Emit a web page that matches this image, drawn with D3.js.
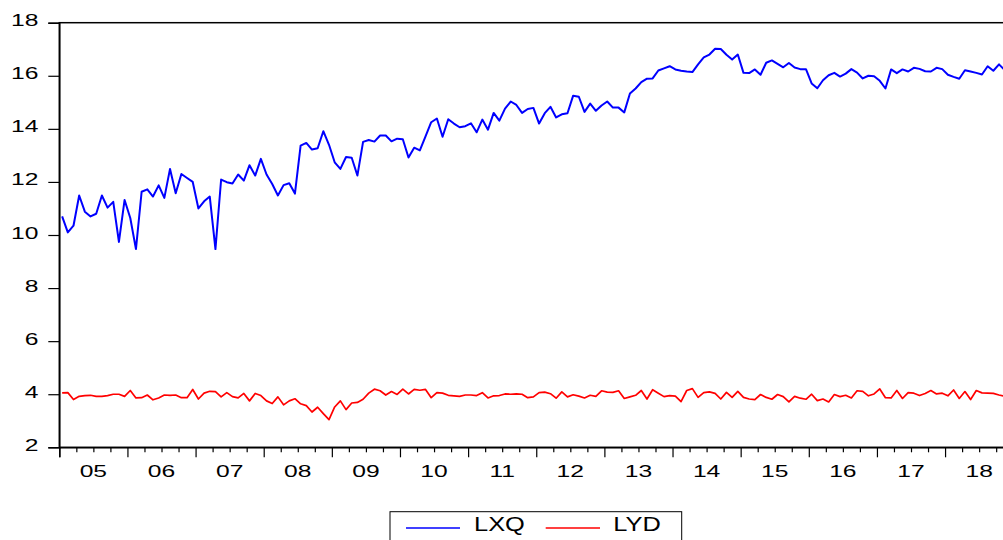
<!DOCTYPE html>
<html>
<head>
<meta charset="utf-8">
<script src="https://cdn.jsdelivr.net/npm/d3@7"></script>
<style>
  html, body { margin: 0; padding: 0; background: #fff; }
  svg { display: block; }
  text { font-family: "Liberation Sans", Arial, sans-serif; fill: #000; }
</style>
</head>
<body>
<svg id="chart" width="1003" height="540"></svg>
<script>
// Monthly series, January 2005 - December 2018
const startYear = 2005;
const yearLabels = ["05","06","07","08","09","10","11","12","13","14","15","16","17","18"];
const yTicks = [2, 4, 6, 8, 10, 12, 14, 16, 18];
const seriesNames = ["LXQ", "LYD"];
const seriesColors = ["#0000ff", "#ff0000"];

const lxq = [
  10.70, 10.10, 10.35, 11.49, 10.88, 10.70, 10.80, 11.49, 11.03, 11.25, 9.74, 11.32,
  10.64, 9.47, 11.63, 11.72, 11.45, 11.87, 11.40, 12.49, 11.57, 12.30, 12.15, 12.00,
  11.00, 11.27, 11.45, 9.47, 12.09, 11.99, 11.94, 12.28, 12.05, 12.63, 12.24, 12.87,
  12.28, 11.92, 11.49, 11.88, 11.95, 11.56, 13.37, 13.47, 13.22, 13.27, 13.91, 13.40,
  12.74, 12.49, 12.94, 12.91, 12.24, 13.51, 13.58, 13.52, 13.75, 13.75, 13.53, 13.63,
  13.61, 12.92, 13.29, 13.19, 13.72, 14.25, 14.39, 13.70, 14.36, 14.20, 14.06, 14.10,
  14.21, 13.87, 14.35, 13.97, 14.60, 14.31, 14.76, 15.03, 14.90, 14.60, 14.75, 14.79,
  14.20, 14.59, 14.83, 14.43, 14.55, 14.59, 15.25, 15.21, 14.64, 14.95, 14.68, 14.88,
  15.03, 14.80, 14.80, 14.62, 15.33, 15.52, 15.76, 15.89, 15.90, 16.20, 16.28, 16.36,
  16.24, 16.19, 16.16, 16.14, 16.43, 16.69, 16.80, 17.02, 17.01, 16.79, 16.61, 16.80,
  16.11, 16.10, 16.24, 16.04, 16.49, 16.58, 16.45, 16.32, 16.48, 16.31, 16.25, 16.25,
  15.71, 15.53, 15.83, 16.02, 16.11, 15.97, 16.08, 16.25, 16.12, 15.90, 16.00, 15.98,
  15.81, 15.52, 16.24, 16.10, 16.24, 16.16, 16.30, 16.26, 16.17, 16.16, 16.30, 16.25,
  16.04, 15.96, 15.89, 16.21, 16.16, 16.11, 16.05, 16.36, 16.19, 16.43, 16.22, 16.12
];

const lyd = [
  4.05, 4.06, 3.80, 3.92, 3.95, 3.96, 3.92, 3.92, 3.95, 4.00, 4.00, 3.92,
  4.14, 3.86, 3.87, 3.97, 3.79, 3.86, 3.97, 3.96, 3.97, 3.87, 3.87, 4.18,
  3.82, 4.04, 4.11, 4.10, 3.90, 4.06, 3.91, 3.86, 4.03, 3.75, 4.03, 3.95,
  3.75, 3.65, 3.90, 3.60, 3.75, 3.83, 3.64, 3.57, 3.33, 3.51, 3.27, 3.04,
  3.52, 3.75, 3.42, 3.67, 3.69, 3.81, 4.04, 4.19, 4.13, 3.97, 4.10, 3.99,
  4.19, 4.01, 4.18, 4.15, 4.18, 3.87, 4.06, 4.04, 3.96, 3.94, 3.92, 3.97,
  3.97, 3.95, 4.06, 3.86, 3.94, 3.95, 4.01, 4.00, 4.01, 4.00, 3.87, 3.90,
  4.06, 4.08, 4.02, 3.85, 4.09, 3.90, 3.98, 3.93, 3.86, 3.96, 3.92, 4.13,
  4.08, 4.07, 4.13, 3.84, 3.90, 3.96, 4.14, 3.82, 4.17, 4.04, 3.91, 3.95,
  3.93, 3.72, 4.14, 4.21, 3.88, 4.06, 4.09, 4.03, 3.82, 4.07, 3.88, 4.11,
  3.88, 3.82, 3.80, 3.99, 3.88, 3.81, 3.99, 3.91, 3.71, 3.92, 3.85, 3.81,
  4.00, 3.76, 3.82, 3.71, 3.99, 3.91, 3.96, 3.86, 4.13, 4.11, 3.94, 4.01,
  4.20, 3.87, 3.86, 4.14, 3.84, 4.06, 4.04, 3.95, 4.03, 4.14, 4.01, 4.04,
  3.94, 4.16, 3.84, 4.10, 3.80, 4.14, 4.05, 4.04, 4.03, 3.97, 3.92, 3.88
];

const svg = d3.select("#chart");
const plotLeft = 59.3, plotTop = 22.7, plotBottom = 447.3;
const monthWidth = 5.678;
const nMonths = yearLabels.length * 12;
const plotRight = plotLeft + nMonths * monthWidth;

// x: month index (0 = Jan 2005); each observation sits in the middle of its month
const x = d3.scaleLinear().domain([0, nMonths]).range([plotLeft, plotRight]);
const y = d3.scaleLinear().domain([2, 18]).range([plotBottom, plotTop]);

const stretch = 1.45;

// plot frame (right side runs past the edge of the image)
svg.append("rect")
  .attr("x", plotLeft).attr("y", plotTop)
  .attr("width", plotRight - plotLeft).attr("height", plotBottom - plotTop)
  .attr("fill", "none").attr("stroke", "#000").attr("stroke-width", 1.5);

// y axis
const yAxis = svg.append("g")
  .attr("transform", `translate(${plotLeft},0)`)
  .call(d3.axisLeft(y).tickValues(yTicks).tickSize(11).tickFormat(d3.format("d")));
yAxis.select(".domain").attr("stroke-width", 1.5);
yAxis.selectAll(".tick line").attr("stroke-width", 1.2);
yAxis.selectAll(".tick text")
  .attr("x", null).attr("dy", null)
  .attr("text-anchor", "end")
  .attr("transform", `translate(-20.8,3) scale(${stretch},1)`)
  .style("font-size", "17px")
  .style("font-family", "'Liberation Sans', Arial, sans-serif");

// x axis: year ticks (long) and quarter ticks (short)
const yearTicks = d3.range(0, nMonths + 1, 12);
const quarterTicks = d3.range(0, nMonths + 1, 3).filter(m => m % 12 !== 0);

const xMajor = svg.append("g")
  .attr("transform", `translate(0,${plotBottom})`)
  .call(d3.axisBottom(x).tickValues(yearTicks).tickSize(10).tickFormat(""));
xMajor.select(".domain").attr("stroke-width", 1.5);
xMajor.selectAll(".tick line").attr("stroke-width", 1.2);

const xMinor = svg.append("g")
  .attr("transform", `translate(0,${plotBottom})`)
  .call(d3.axisBottom(x).tickValues(quarterTicks).tickSize(5).tickFormat(""));
xMinor.select(".domain").remove();
xMinor.selectAll(".tick line").attr("stroke-width", 1.2);

// year labels centred in each year
svg.append("g").selectAll("text")
  .data(yearLabels)
  .join("text")
  .attr("text-anchor", "middle")
  .attr("transform", (d, i) => `translate(${x(i * 12 + 6)},${plotBottom + 29.4}) scale(${stretch},1)`)
  .style("font-size", "17px")
  .text(d => d);

// series lines
const line = d3.line()
  .x((d, i) => x(i + 0.5))
  .y(d => y(d));

svg.append("path")
  .datum(lyd)
  .attr("fill", "none")
  .attr("stroke", seriesColors[1])
  .attr("stroke-width", 1.7)
  .attr("stroke-linejoin", "round")
  .attr("d", line);

svg.append("path")
  .datum(lxq)
  .attr("fill", "none")
  .attr("stroke", seriesColors[0])
  .attr("stroke-width", 2)
  .attr("stroke-linejoin", "round")
  .attr("d", line);

// legend
const legend = svg.append("g");
legend.append("rect")
  .attr("x", 390).attr("y", 511.7)
  .attr("width", 291.7).attr("height", 40)
  .attr("fill", "#fff").attr("stroke", "#000").attr("stroke-width", 1);

const legendItems = [
  { name: seriesNames[0], color: seriesColors[0], x0: 406, x1: 460, tx: 474 },
  { name: seriesNames[1], color: seriesColors[1], x0: 545.7, x1: 600, tx: 613.3 }
];
legendItems.forEach(it => {
  legend.append("line")
    .attr("x1", it.x0).attr("x2", it.x1)
    .attr("y1", 528).attr("y2", 528)
    .attr("stroke", it.color).attr("stroke-width", 1.5);
  legend.append("text")
    .attr("transform", `translate(${it.tx},531) scale(1.27,1)`)
    .style("font-size", "20px")
    .text(it.name);
});
</script>
</body>
</html>
